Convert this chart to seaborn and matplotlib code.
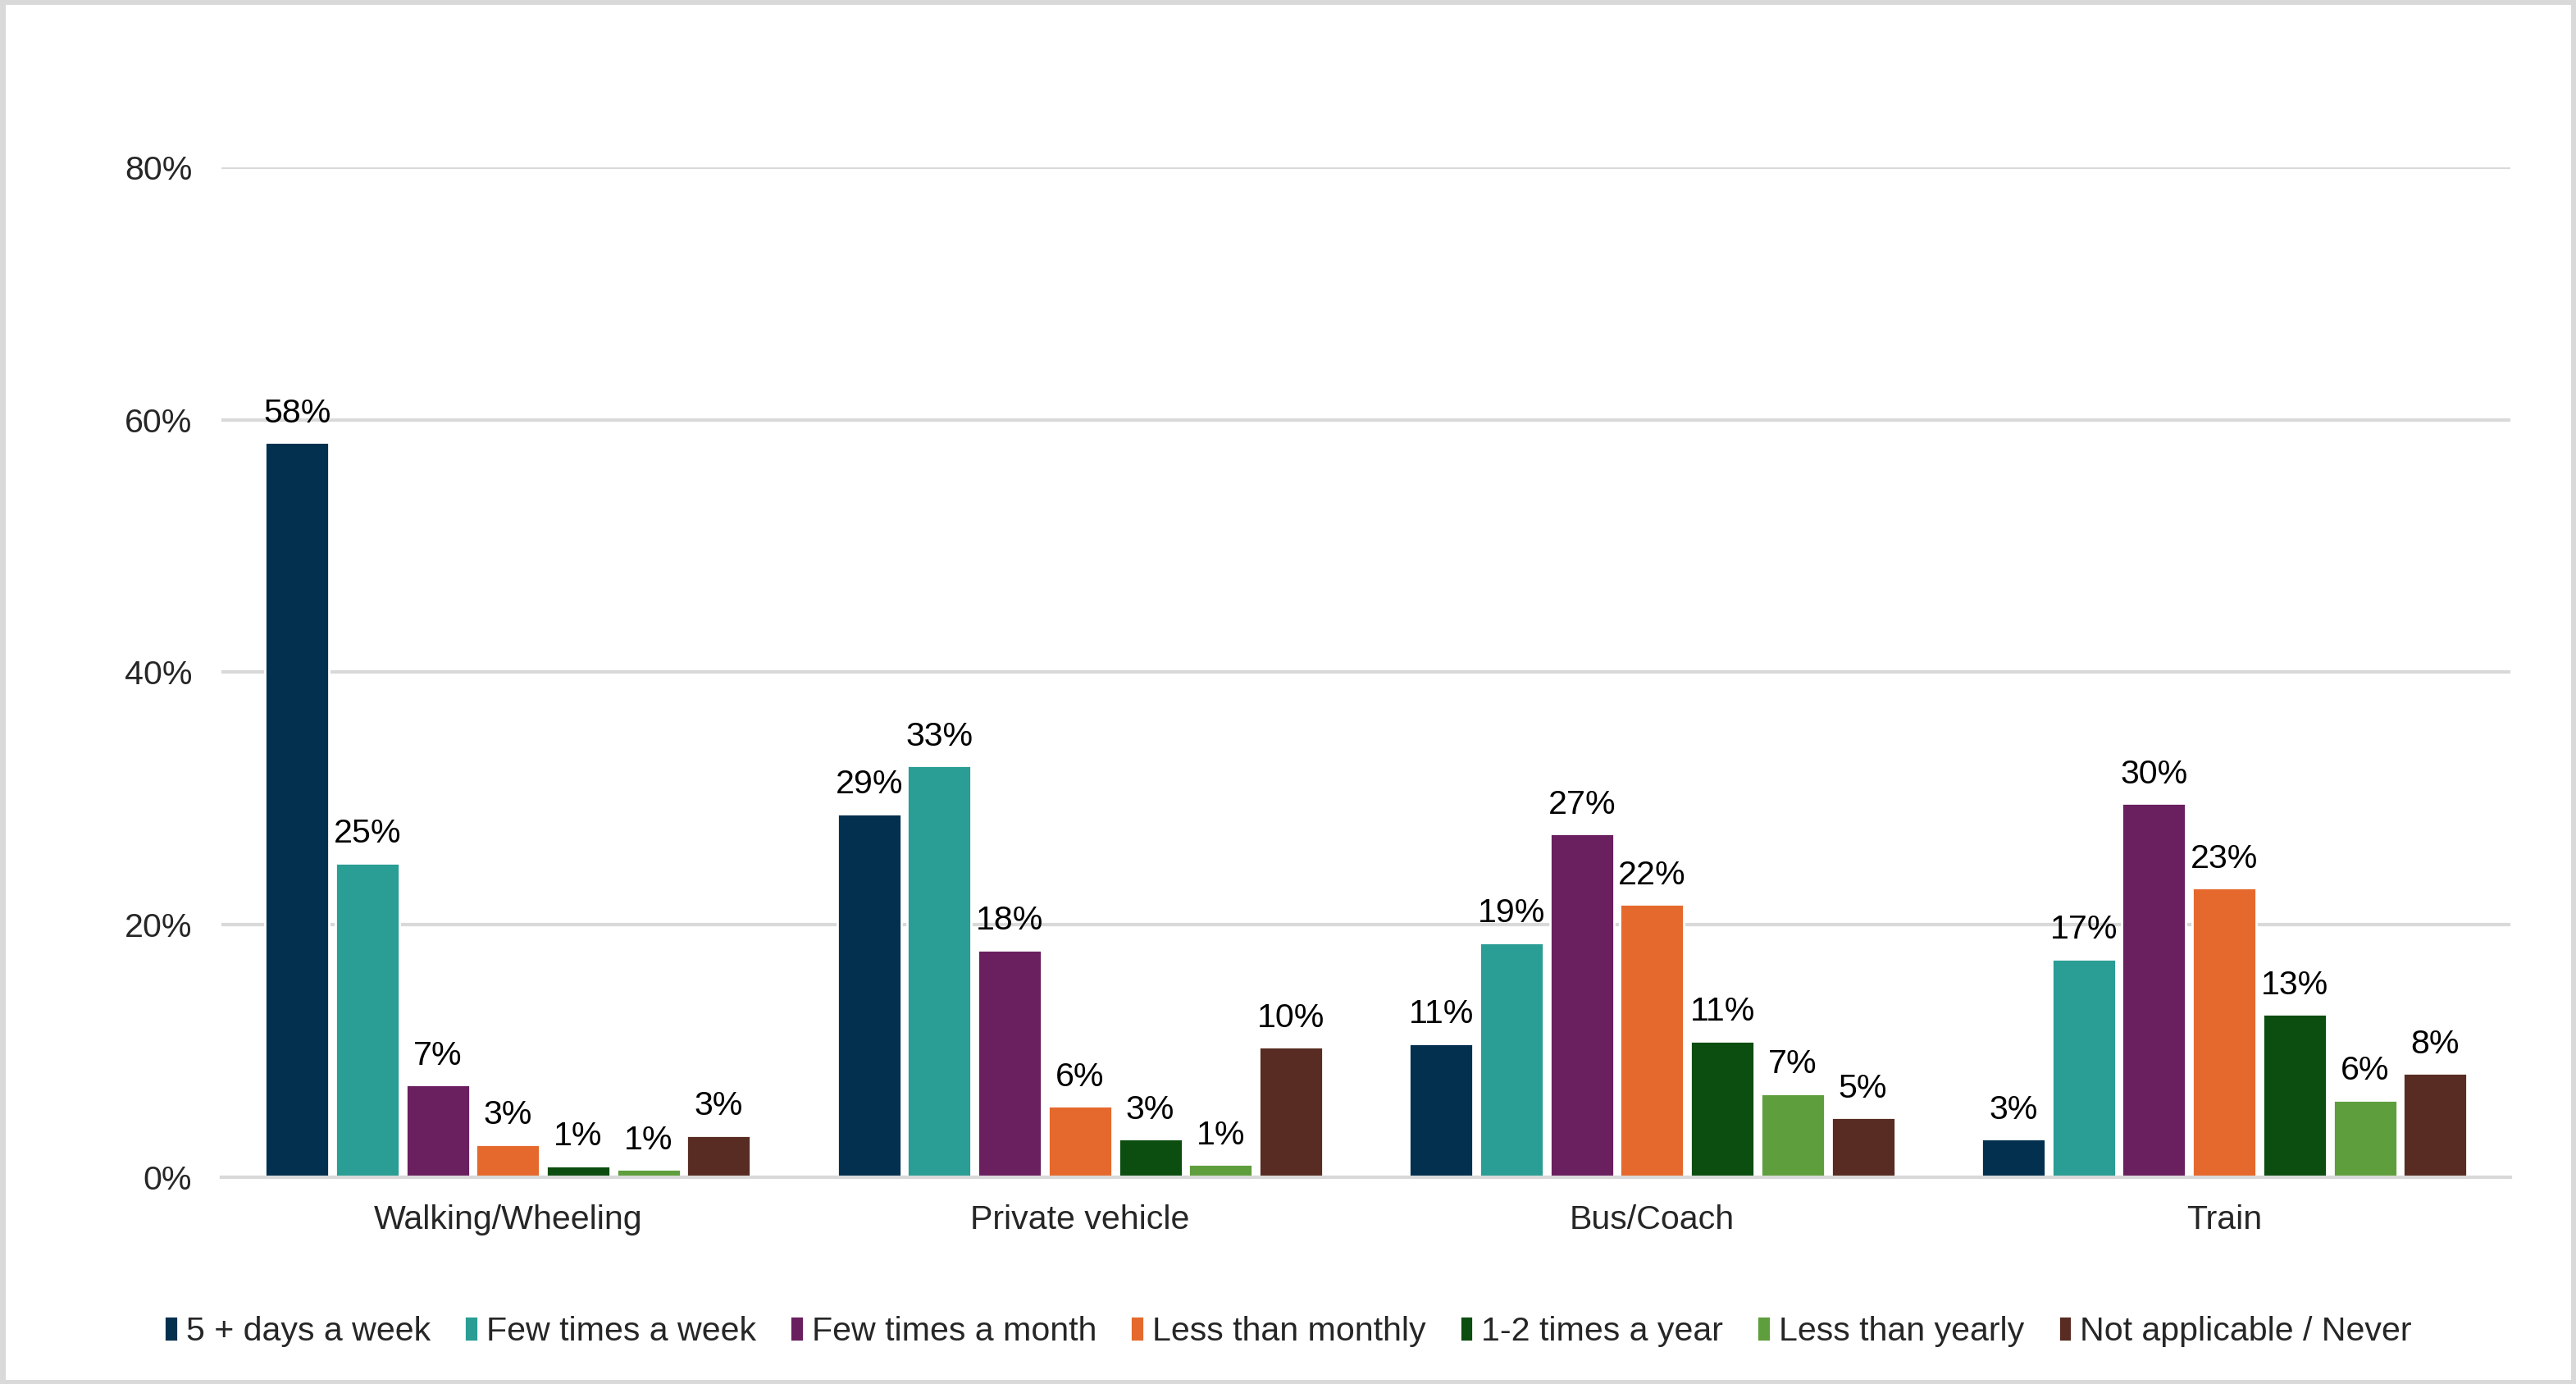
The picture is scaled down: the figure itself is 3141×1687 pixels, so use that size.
import pandas as pd
import matplotlib.pyplot as plt
import seaborn as sns
from matplotlib.patches import Rectangle
from matplotlib.ticker import FixedLocator

modes = ["Walking/Wheeling", "Private vehicle", "Bus/Coach", "Train"]
frequencies = ["5 + days a week", "Few times a week", "Few times a month",
               "Less than monthly", "1-2 times a year", "Less than yearly",
               "Not applicable / Never"]

five_plus = [58.2, 28.8, 10.6, 3.0]
few_week = [24.9, 32.6, 18.6, 17.3]
few_month = [7.3, 18.0, 27.2, 29.6]
less_monthly = [2.6, 5.6, 21.6, 22.9]
once_twice_year = [0.9, 3.0, 10.8, 12.9]
less_yearly = [0.6, 1.0, 6.6, 6.1]
never = [3.3, 10.3, 4.7, 8.2]

colors = ["#03304F", "#2A9D94", "#6A1F5F", "#E5692D", "#0C4D10", "#5F9E3D", "#582C22"]

series = [five_plus, few_week, few_month, less_monthly, once_twice_year, less_yearly, never]
rows = []
for freq, vals in zip(frequencies, series):
    for mode, v in zip(modes, vals):
        rows.append({"Mode": mode, "Frequency": freq, "Value": v})
df = pd.DataFrame(rows)

sns.set_style("white")
plt.rcParams["font.family"] = ["Liberation Sans", "DejaVu Sans"]

fig = plt.figure(figsize=(15.705, 8.435), dpi=200)
ax = fig.add_axes([0.0861, 0.1496, 0.8884, 0.7294])

sns.barplot(data=df, x="Mode", y="Value", hue="Frequency", order=modes,
            hue_order=frequencies, palette=colors, width=0.86, gap=0.09,
            saturation=1, errorbar=None, ax=ax)

for cont in ax.containers:
    ax.bar_label(cont, labels=[f"{round(b.get_height())}%" for b in cont],
                 padding=6, fontsize=14.8, color="#000000")

ax.set_ylim(0, 80)
ax.set_xlim(-0.5, 3.5)
ax.set_yticks([0, 20, 40, 60, 80])
ax.set_yticklabels([f"{t}%" for t in [0, 20, 40, 60, 80]])
ax.yaxis.grid(True, color="#D9D9D9", linewidth=1.5)
ax.set_axisbelow(True)
ax.tick_params(axis="y", length=0, labelsize=14.8, pad=13)
ax.tick_params(axis="x", which="major", length=0, labelsize=14.8, pad=12)
ax.xaxis.set_minor_locator(FixedLocator([-0.5, 0.5, 1.5, 2.5, 3.5]))
ax.tick_params(axis="x", which="minor", length=8, width=1.5, color="#D9D9D9")
ax.set_xlabel("")
ax.set_ylabel("")
for s in ["top", "right", "left"]:
    ax.spines[s].set_visible(False)
ax.spines["bottom"].set_color("#D9D9D9")
ax.spines["bottom"].set_linewidth(1.5)

handles, labels = ax.get_legend_handles_labels()
ax.legend(handles, labels, loc="lower center", bbox_to_anchor=(0.5, 0.005),
          bbox_transform=fig.transFigure, ncol=7, frameon=False, fontsize=14.8,
          handlelength=0.4, handleheight=0.8, handletextpad=0.25, columnspacing=1.0)

fig.patches.append(Rectangle((0.001, 0.001), 0.998, 0.998, transform=fig.transFigure,
                             fill=False, edgecolor="#D9D9D9", linewidth=2.5))

fig.savefig("out.png", dpi=200, facecolor="white")
